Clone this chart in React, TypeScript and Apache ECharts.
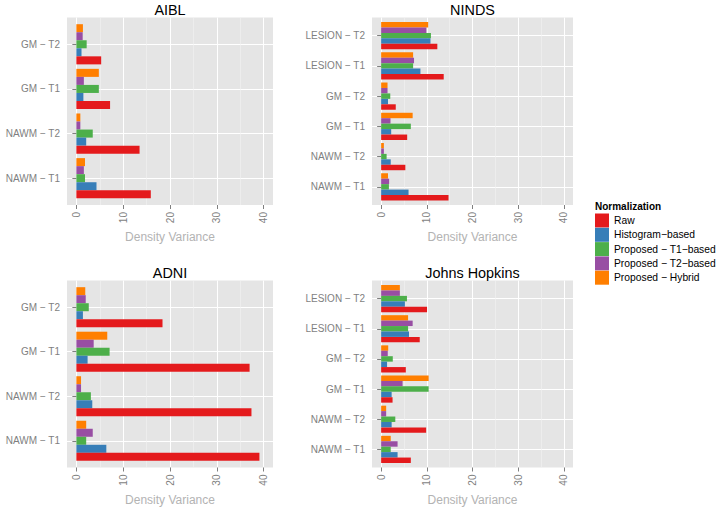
import React, { useEffect, useRef } from "react";
import * as echarts from "echarts";

const seriesNames = ["Raw", "Histogram\u2212based", "Proposed \u2212 T1\u2212based", "Proposed \u2212 T2\u2212based", "Proposed \u2212 Hybrid"];
const seriesColors = ["#E41A1C", "#377EB8", "#4DAF4A", "#984EA3", "#FF7F00"];

const xTicks = [0, 10, 20, 30, 40];

// AIBL
const aiblCategories = ["NAWM \u2212 T1", "NAWM \u2212 T2", "GM \u2212 T1", "GM \u2212 T2"];
const aiblRaw = [15.9, 13.5, 7.2, 5.3];
const aiblHist = [4.3, 2.1, 1.5, 1.1];
const aiblT1 = [1.85, 3.5, 4.8, 2.2];
const aiblT2 = [1.6, 0.85, 1.6, 1.35];
const aiblHybrid = [1.85, 0.85, 4.8, 1.4];

// NINDS
const nindsCategories = ["NAWM \u2212 T1", "NAWM \u2212 T2", "GM \u2212 T1", "GM \u2212 T2", "LESION \u2212 T1", "LESION \u2212 T2"];
const nindsRaw = [14.75, 5.3, 5.7, 3.2, 13.7, 12.3];
const nindsHist = [6.0, 2.1, 2.2, 1.5, 8.6, 10.8];
const nindsT1 = [1.7, 1.2, 6.5, 2.0, 7.0, 10.9];
const nindsT2 = [1.75, 0.6, 2.05, 1.4, 7.2, 9.9];
const nindsHybrid = [1.5, 0.6, 6.9, 1.4, 7.0, 10.3];

// ADNI
const adniCategories = ["NAWM \u2212 T1", "NAWM \u2212 T2", "GM \u2212 T1", "GM \u2212 T2"];
const adniRaw = [39.1, 37.4, 37.0, 18.4];
const adniHist = [6.4, 3.4, 2.4, 1.4];
const adniT1 = [2.1, 3.1, 7.1, 2.65];
const adniT2 = [3.5, 1.0, 3.7, 2.0];
const adniHybrid = [2.1, 1.0, 6.6, 1.9];

// Johns Hopkins
const jhCategories = ["NAWM \u2212 T1", "NAWM \u2212 T2", "GM \u2212 T1", "GM \u2212 T2", "LESION \u2212 T1", "LESION \u2212 T2"];
const jhRaw = [6.5, 9.85, 2.5, 5.4, 8.45, 10.05];
const jhHist = [3.6, 2.3, 2.3, 1.3, 6.1, 5.2];
const jhT1 = [2.1, 3.1, 10.4, 2.55, 5.9, 5.65];
const jhT2 = [3.6, 1.1, 4.7, 1.45, 6.9, 4.1];
const jhHybrid = [2.1, 1.1, 10.4, 1.55, 5.9, 4.1];

const FONT = '"Liberation Sans", Arial, Helvetica, sans-serif';
const GREY50 = "#7F7F7F";

const panels = [
  { title: "AIBL", cats: aiblCategories, data: [aiblRaw, aiblHist, aiblT1, aiblT2, aiblHybrid], l: 67, t: 17.5, w: 206, h: 187.5 },
  { title: "NINDS", cats: nindsCategories, data: [nindsRaw, nindsHist, nindsT1, nindsT2, nindsHybrid], l: 372, t: 17.5, w: 201, h: 187.5 },
  { title: "ADNI", cats: adniCategories, data: [adniRaw, adniHist, adniT1, adniT2, adniHybrid], l: 67, t: 280.5, w: 206, h: 187 },
  { title: "Johns Hopkins", cats: jhCategories, data: [jhRaw, jhHist, jhT1, jhT2, jhHybrid], l: 372, t: 280.5, w: 201, h: 187 },
];

function buildOption() {
  const grid: any[] = [];
  const xAxis: any[] = [];
  const yAxis: any[] = [];
  const series: any[] = [];
  const graphic: any[] = [];

  panels.forEach((p, i) => {
    const unit = p.w / 44;
    const n = p.cats.length;
    const band = p.h / (n + 0.2);
    const inset = band * 0.1;
    const a = i * 3;
    // background grid
    grid.push({ left: p.l, top: p.t, width: p.w, height: p.h, show: true, backgroundColor: "#E5E5E5", borderWidth: 0 });
    xAxis.push({ gridIndex: a, type: "value", show: false, min: 0, max: 1 });
    yAxis.push({ gridIndex: a, type: "value", show: false, min: 0, max: 1 });
    // x decoration grid
    grid.push({ left: p.l + unit * 2, top: p.t, width: unit * 40, height: p.h, show: false });
    xAxis.push({
      gridIndex: a + 1,
      type: "value",
      min: xTicks[0],
      max: xTicks[xTicks.length - 1],
      interval: 10,
      axisLine: { show: false },
      axisTick: { show: true, length: 4, lineStyle: { color: GREY50, width: 1 } },
      axisLabel: { rotate: 90, margin: 7, color: GREY50, fontSize: 10, fontFamily: FONT },
      splitLine: { show: true, lineStyle: { color: "#FFFFFF", width: 1 } },
      minorTick: { show: false, splitNumber: 2 },
      minorSplitLine: { show: true, lineStyle: { color: "#F2F2F2", width: 0.6 } },
      name: "Density Variance",
      nameLocation: "middle",
      nameGap: 26,
      nameTextStyle: { color: "#B3B3B3", fontSize: 12, fontFamily: FONT },
    });
    yAxis.push({ gridIndex: a + 1, type: "value", show: false, min: 0, max: 1 });
    // bars grid
    grid.push({ left: p.l, top: p.t + inset, width: p.w, height: p.h - 2 * inset, show: false });
    xAxis.push({ gridIndex: a + 2, type: "value", show: false, min: -2, max: 42 });
    yAxis.push({
      gridIndex: a + 2,
      type: "category",
      data: p.cats,
      axisLine: { show: false },
      axisTick: { show: true, alignWithLabel: true, length: 4, lineStyle: { color: GREY50 } },
      axisLabel: { color: GREY50, fontSize: 10, margin: 7, fontFamily: FONT },
      splitLine: { show: true, alignWithLabel: true, lineStyle: { color: "#FFFFFF", width: 1 } },
    });
    // series: first drawn at top, so reverse order
    for (let k = 4; k >= 0; k--) {
      series.push({
        type: "bar",
        name: seriesNames[k],
        xAxisIndex: a + 2,
        yAxisIndex: a + 2,
        data: p.data[k],
        itemStyle: { color: seriesColors[k] },
        barCategoryGap: "10%",
        barGap: "0%",
      });
    }
    graphic.push({
      type: "text",
      x: p.l + p.w / 2,
      y: p.t - 8,
      style: { text: p.title, font: `14.4px ${FONT}`, fill: "#000", align: "center", verticalAlign: "middle" },
    });
  });

  graphic.push({
    type: "text",
    x: 595,
    y: 206,
    style: { text: "Normalization", font: `bold 10px ${FONT}`, fill: "#000", align: "left", verticalAlign: "middle" },
  });

  return {
    animation: false,
    backgroundColor: "#FFFFFF",
    grid,
    xAxis,
    yAxis,
    series,
    graphic,
    legend: {
      data: seriesNames,
      orient: "vertical",
      left: 595,
      top: 213.5,
      itemWidth: 14,
      itemHeight: 14,
      itemGap: 0.3,
      icon: "rect",
      selectedMode: false,
      padding: 0,
      textStyle: { fontSize: 10.3, color: "#000", fontFamily: FONT },
    },
  };
}

export default function App() {
  const ref = useRef<HTMLDivElement>(null);
  useEffect(() => {
    if (!ref.current) return;
    const chart = echarts.init(ref.current, undefined, { renderer: "svg" });
    chart.setOption(buildOption() as any);
    return () => chart.dispose();
  }, []);
  return <div ref={ref} style={{ position: "fixed", left: 0, top: 0, width: 716, height: 509, background: "#fff" }} />;
}
